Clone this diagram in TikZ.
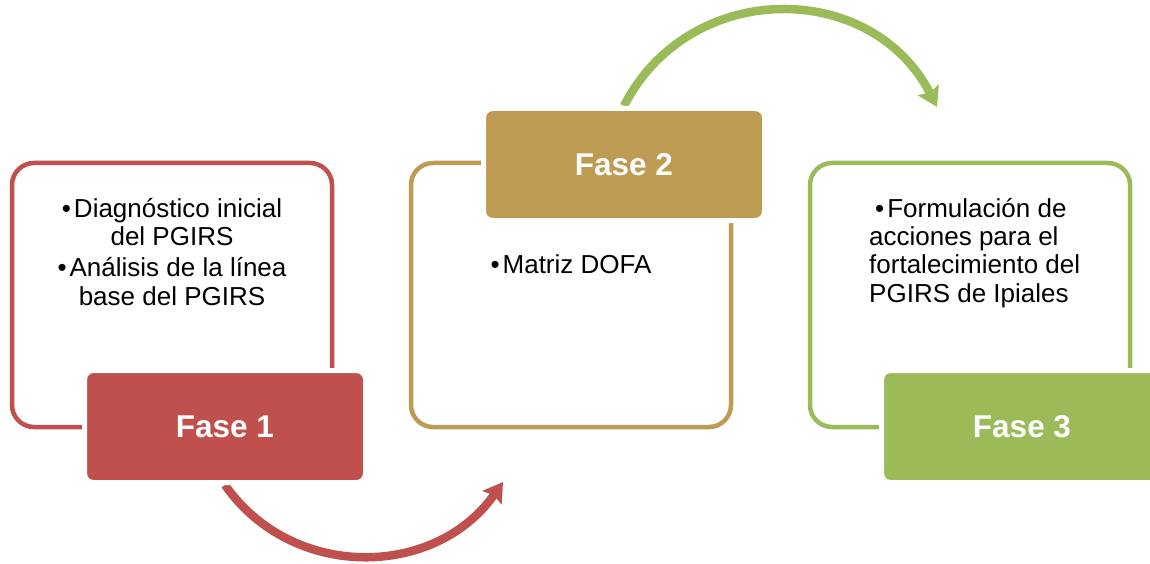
\documentclass[tikz,border=0pt]{standalone}
\usepackage{fontspec}
\setmainfont{Liberation Sans}
\usetikzlibrary{arrows.meta,backgrounds}
\definecolor{faseRed}{HTML}{C0504D}
\definecolor{faseGold}{HTML}{BE9B53}
\definecolor{faseGreen}{HTML}{9BBB59}
\newcommand{\vineta}{\textbullet\hspace{3pt}}
\tikzset{
  marco/.style={draw=#1, line width=4.5pt, rounded corners=22pt,
    minimum width=320pt, minimum height=264pt},
  fase/.style={fill=#1, draw=white, line width=5pt, rounded corners=9pt,
    minimum width=281pt, minimum height=112pt, text=white,
    font=\fontsize{31.5}{36}\selectfont\bfseries},
  lista/.style={inner sep=0pt, font=\fontsize{26}{28.3}\selectfont},
  flecha/.style={draw=#1, line width=8.5pt,
    -{Stealth[length=19pt,width=23pt,inset=3pt]}}
}
\begin{document}
\begin{tikzpicture}[x=1pt,y=1pt]
  \useasboundingbox (0,0) rectangle (1150,-564);
  % marcos
  \node[marco=faseRed] (m1) at (172,-295) {};
  \node[marco=faseGold] (m2) at (571,-295) {};
  \node[marco=faseGreen] (m3) at (970,-295) {};
  % textos
  \node[lista, align=center, anchor=north] (t1) at (172,-198)
        {\vineta Diagnóstico inicial\\del PGIRS\\[3pt]%
         \vineta Análisis de la línea\\base del PGIRS};
  \node[lista, align=center, anchor=north] (t2) at (571,-254)
        {\vineta Matriz DOFA};
  \node[lista, align=left, anchor=north west] (t3) at (869,-198)
        {\hspace*{6pt}\vineta Formulación de\\acciones para el\\
         fortalecimiento del\\PGIRS de Ipiales};
  % fases
  \node[fase=faseRed] (f1) at (225,-426.5) {Fase 1};
  \node[fase=faseGold] (f2) at (624,-164.5) {Fase 2};
  \node[fase=faseGreen] (f3) at (1022,-426.5) {Fase 3};
  % flechas
  \coordinate (p12) at (503,-482);
  \coordinate (p23) at (937,-107);
  \begin{pgfonlayer}{background}
    \draw[flecha=faseRed] (f1.south) to[out=-55,in=-125,looseness=1.08] (p12);
    \draw[flecha=faseGreen] (f2.north) to[out=63,in=117,looseness=1.17] (p23);
  \end{pgfonlayer}
\end{tikzpicture}
\end{document}
